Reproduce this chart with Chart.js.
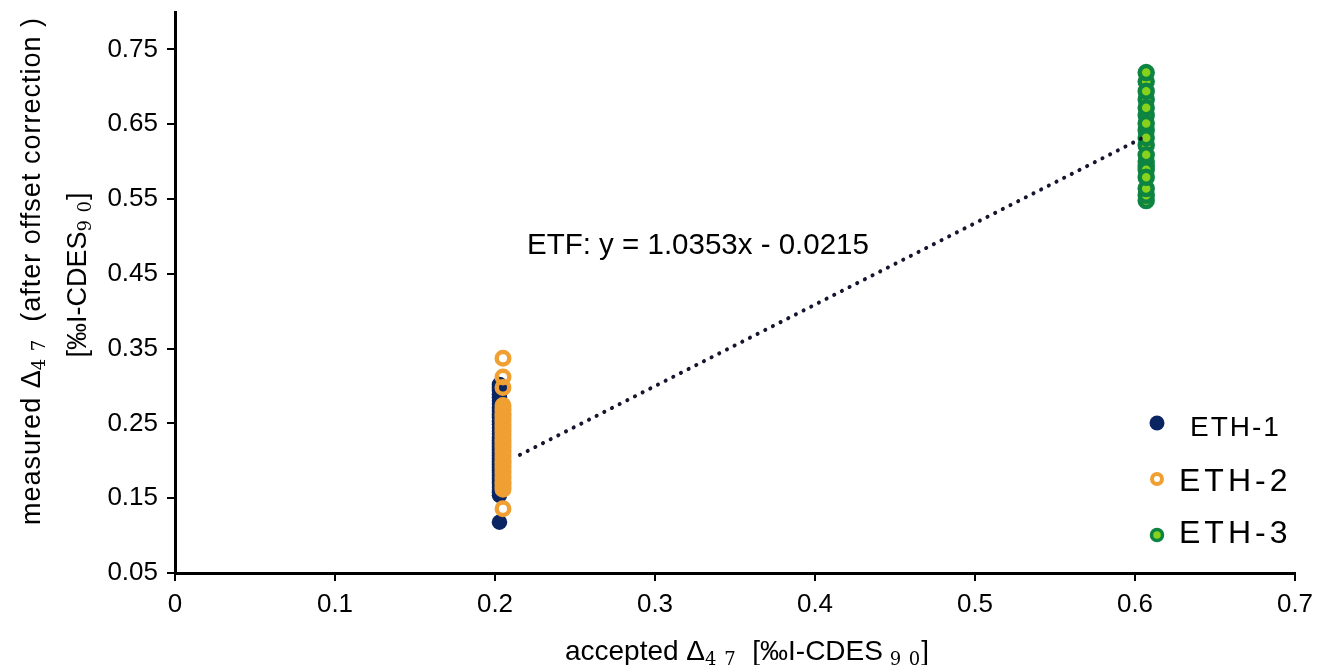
<!DOCTYPE html>
<html>
<head>
<meta charset="utf-8">
<script src="https://cdn.jsdelivr.net/npm/chart.js@4/dist/chart.umd.min.js"></script>
<style>
  html, body { margin: 0; padding: 0; background: #ffffff; }
  canvas { display: block; }
</style>
</head>
<body>
<canvas id="c" width="1323" height="665"></canvas>
<script>
// ---- data ----
const seriesNames = ['ETH-1', 'ETH-2', 'ETH-3'];
const eth1X = 0.2028;
const eth1Y = [0.118, 0.154, 0.158, 0.161, 0.165, 0.169, 0.172, 0.176, 0.180, 0.184, 0.187, 0.191,
  0.195, 0.199, 0.203, 0.207, 0.211, 0.215, 0.219, 0.223, 0.227, 0.231, 0.236, 0.240, 0.244,
  0.249, 0.253, 0.258, 0.262, 0.267, 0.271, 0.276, 0.280, 0.285, 0.289, 0.294, 0.298, 0.302];
const eth2X = 0.205;
const eth2Y = [0.162, 0.165, 0.169, 0.172, 0.176, 0.179, 0.183, 0.186, 0.190, 0.193, 0.197, 0.200,
  0.204, 0.207, 0.211, 0.214, 0.218, 0.221, 0.225, 0.228, 0.232, 0.235, 0.239, 0.242, 0.246,
  0.249, 0.253, 0.256, 0.260, 0.263, 0.267, 0.270, 0.274, 0.298, 0.312, 0.337, 0.136];
const eth3X = 0.607;
const eth3Y = [0.707, 0.683, 0.662, 0.642, 0.622, 0.600, 0.594, 0.589,
  0.719, 0.694, 0.672, 0.651, 0.632, 0.609, 0.548, 0.555, 0.564, 0.579];
const trendX = [0.2156, 0.604];
const trendY = [0.208, 0.631];
const trendLabel = 'ETF: y = 1.0353x - 0.0215';
const xTicks = [0, 0.1, 0.2, 0.3, 0.4, 0.5, 0.6, 0.7];
const xTickLabels = ['0', '0.1', '0.2', '0.3', '0.4', '0.5', '0.6', '0.7'];
const yTicks = [0.05, 0.15, 0.25, 0.35, 0.45, 0.55, 0.65, 0.75];
const yTickLabels = ['0.05', '0.15', '0.25', '0.35', '0.45', '0.55', '0.65', '0.75'];

// ---- styles ----
const NAVY = '#0b2562';
const ORANGE = '#f0a033';
const GREEN = '#0e8442';
const LIME = '#86d21c';
const SANS = '"Liberation Sans", Arial, sans-serif';
const SERIF = '"DejaVu Serif", "Liberation Serif", serif';

const pts = (x, ys) => ys.map(y => ({ x: x, y: y }));
const trendPts = trendX.map((x, i) => ({ x: x, y: trendY[i] }));

function drawRich(ctx, parts, x, y, align) {
  let total = 0;
  const widths = parts.map(p => {
    ctx.font = p.font;
    ctx.letterSpacing = (p.ls || 0) + 'px';
    const w = ctx.measureText(p.text).width;
    total += w;
    return w;
  });
  let cx = align === 'center' ? x - total / 2 : x;
  parts.forEach((p, i) => {
    ctx.font = p.font;
    ctx.letterSpacing = (p.ls || 0) + 'px';
    ctx.fillText(p.text, cx, y + (p.dy || 0));
    cx += widths[i];
  });
  ctx.letterSpacing = '0px';
}

const extras = {
  id: 'extras',
  afterDraw(chart) {
    const ctx = chart.ctx;
    ctx.save();
    ctx.fillStyle = '#000';
    ctx.textBaseline = 'alphabetic';
    ctx.textAlign = 'left';

    // trend label
    ctx.font = '29.5px ' + SANS;
    ctx.fillText(trendLabel, 527, 254);

    // x axis title
    const xf = '28px ' + SANS, xs = '18px ' + SERIF;
    drawRich(ctx, [
      { text: 'accepted ', font: xf },
      { text: '\u0394', font: xf },
      { text: '4 7', font: xs, dy: 5, ls: 1 },
      { text: '  [\u2030I-CDES', font: xf },
      { text: ' 9 0', font: xs, dy: 5, ls: 1 },
      { text: ']', font: xf }
    ], 747, 660, 'center');

    // y axis title (rotated)
    ctx.save();
    ctx.rotate(-Math.PI / 2);
    const yf = '27px ' + SANS, ys = '18px ' + SERIF;
    drawRich(ctx, [
      { text: 'measured ', font: yf, ls: 1 },
      { text: '\u0394', font: yf },
      { text: '4 7', font: ys, dy: 5, ls: 1 },
      { text: '  (after offset correction )', font: yf, ls: 1 }
    ], -271, 40, 'center');
    drawRich(ctx, [
      { text: '[\u2030I-CDES', font: yf },
      { text: '9 0', font: ys, dy: 5, ls: 1 },
      { text: ']', font: yf }
    ], -275, 86, 'center');
    ctx.restore();

    // legend
    ctx.beginPath();
    ctx.arc(1157, 423, 7.5, 0, Math.PI * 2);
    ctx.fillStyle = NAVY; ctx.fill();

    ctx.beginPath();
    ctx.arc(1157, 479, 5, 0, Math.PI * 2);
    ctx.lineWidth = 4; ctx.strokeStyle = ORANGE; ctx.stroke();

    ctx.beginPath();
    ctx.arc(1157, 535, 5.5, 0, Math.PI * 2);
    ctx.fillStyle = LIME; ctx.fill();
    ctx.lineWidth = 3.5; ctx.strokeStyle = GREEN; ctx.stroke();

    ctx.fillStyle = '#000';
    ctx.textBaseline = 'middle';
    drawRich(ctx, [{ text: seriesNames[0], font: '28px ' + SANS, ls: 2 }], 1190, 428, 'left');
    drawRich(ctx, [{ text: seriesNames[1], font: '32px ' + SANS, ls: 4 }], 1179, 482, 'left');
    drawRich(ctx, [{ text: seriesNames[2], font: '32px ' + SANS, ls: 4 }], 1179, 534, 'left');
    ctx.restore();
  }
};

new Chart(document.getElementById('c'), {
  type: 'scatter',
  data: {
    datasets: [
      {
        label: 'ETF', data: trendPts, showLine: true, order: 0,
        borderColor: '#15152e', borderWidth: 4, borderDash: [0.1, 8.5], borderCapStyle: 'round',
        pointRadius: 0, fill: false
      },
      {
        label: seriesNames[2], data: pts(eth3X, eth3Y), order: 1,
        pointRadius: 6.5, pointBorderWidth: 4.5,
        pointBackgroundColor: LIME, pointBorderColor: GREEN
      },
      {
        label: seriesNames[1], data: pts(eth2X, eth2Y), order: 2,
        pointRadius: 6.25, pointBorderWidth: 4.5,
        pointBackgroundColor: 'rgba(0,0,0,0)', pointBorderColor: ORANGE
      },
      {
        label: seriesNames[0], data: pts(eth1X, eth1Y), order: 3,
        pointRadius: 7.75, pointBorderWidth: 0,
        pointBackgroundColor: NAVY, pointBorderColor: NAVY
      }
    ]
  },
  options: {
    responsive: false,
    animation: false,
    devicePixelRatio: 1,
    layout: { padding: { top: 12, right: 28, left: 0, bottom: 0 } },
    plugins: { legend: { display: false }, tooltip: { enabled: false } },
    scales: {
      x: {
        type: 'linear', min: 0, max: 0.7,
        afterFit: s => { s.height = 92; s.paddingLeft = 0; s.paddingRight = 0; },
        afterBuildTicks: s => { s.ticks = xTicks.map(v => ({ value: v })); },
        ticks: {
          color: '#000', font: { family: SANS, size: 26 }, padding: 8,
          callback: (v) => { const i = xTicks.findIndex(t => Math.abs(t - v) < 1e-9); return i >= 0 ? xTickLabels[i] : ''; },
          maxRotation: 0, autoSkip: false
        },
        grid: { drawOnChartArea: false, drawTicks: true, tickLength: 8, color: '#000', lineWidth: 2 },
        border: { display: true, color: '#000', width: 3 }
      },
      y: {
        type: 'linear', min: 0.05, max: 0.8,
        afterFit: s => { s.width = 175; s.paddingTop = 0; s.paddingBottom = 0; },
        afterBuildTicks: s => { s.ticks = yTicks.map(v => ({ value: v })); },
        ticks: {
          color: '#000', font: { family: SANS, size: 26 }, padding: 9,
          callback: (v) => { const i = yTicks.findIndex(t => Math.abs(t - v) < 1e-9); return i >= 0 ? yTickLabels[i] : ''; },
          autoSkip: false
        },
        grid: { drawOnChartArea: false, drawTicks: true, tickLength: 8, color: '#000', lineWidth: 2 },
        border: { display: true, color: '#000', width: 3 }
      }
    }
  },
  plugins: [extras]
});
</script>
</body>
</html>
